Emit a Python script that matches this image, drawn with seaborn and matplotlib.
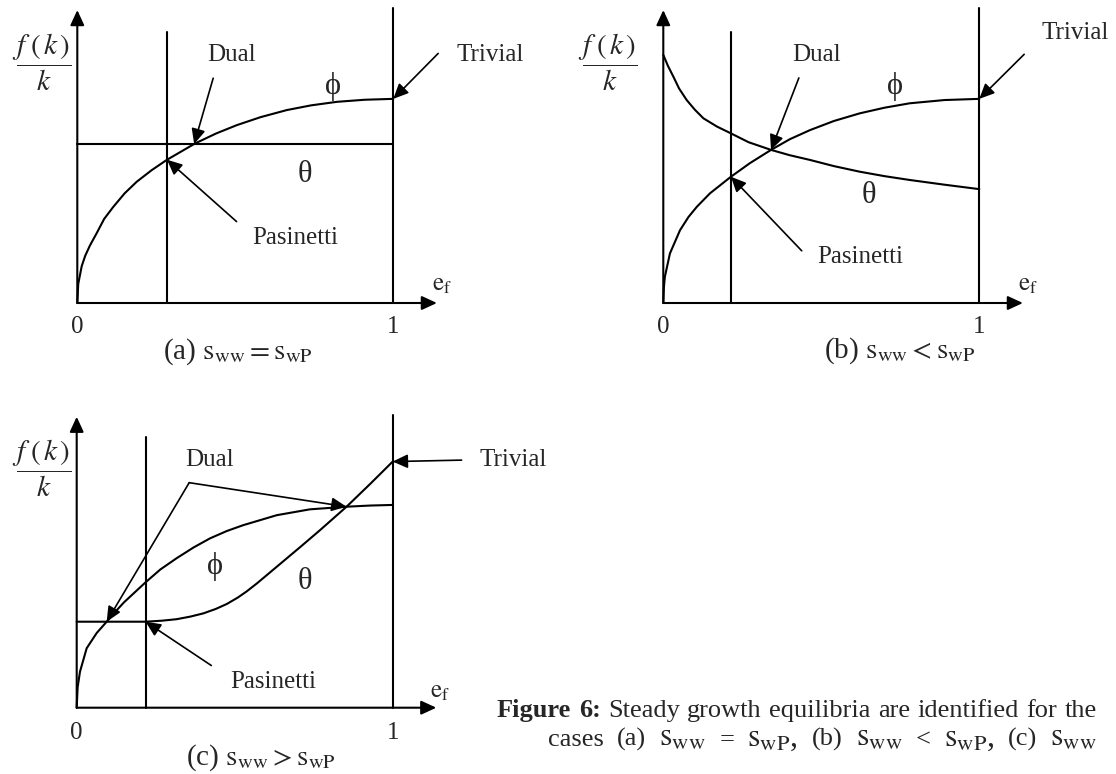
import numpy as np
import matplotlib
matplotlib.use("Agg")
import matplotlib.pyplot as plt
import seaborn as sns

W, H, DPI = 1116, 774, 100

# ---------------------------------------------------------------------------
# Curves: e_f on the horizontal axis, f(k)/k (arbitrary units) vertically
# ---------------------------------------------------------------------------
# (a) s_ww = s_wP
PHI_A_X = [0.0, 0.003, 0.014, 0.025, 0.040, 0.061, 0.085, 0.114, 0.150, 0.188,
           0.235, 0.283, 0.373, 0.440, 0.505, 0.580, 0.663, 0.740, 0.822, 0.910, 1.0]
PHI_A_Y = [0.0, 0.065, 0.125, 0.160, 0.195, 0.236, 0.285, 0.326, 0.372, 0.411,
           0.450, 0.485, 0.541, 0.575, 0.603, 0.630, 0.654, 0.670, 0.682, 0.689, 0.692]
THETA_A = 0.539
E_LEFT_A = 0.284

# (b) s_ww < s_wP
PHI_B_X = [0.0, 0.002, 0.005, 0.021, 0.053, 0.080, 0.106, 0.148, 0.214, 0.274, 0.341,
           0.400, 0.464, 0.540, 0.622, 0.700, 0.780, 0.890, 1.0]
PHI_B_Y = [0.0, 0.055, 0.089, 0.168, 0.247, 0.292, 0.326, 0.372, 0.428, 0.474, 0.519,
           0.555, 0.586, 0.617, 0.643, 0.662, 0.677, 0.688, 0.692]
THETA_B_X = [0.0, 0.015, 0.032, 0.050, 0.074, 0.100, 0.127, 0.170, 0.214, 0.270,
             0.341, 0.400, 0.464, 0.540, 0.622, 0.700, 0.780, 0.890, 1.0]
THETA_B_Y = [0.841, 0.803, 0.767, 0.727, 0.688, 0.655, 0.626, 0.598, 0.575, 0.545,
             0.519, 0.501, 0.485, 0.464, 0.445, 0.430, 0.417, 0.401, 0.386]
E_LEFT_B = 0.214

# (c) s_ww > s_wP
PHI_C_X = [0.0, 0.003, 0.0104, 0.0316, 0.0633, 0.0949, 0.120, 0.150, 0.218, 0.265,
           0.316, 0.370, 0.422, 0.475, 0.527, 0.633, 0.738, 0.854, 0.930, 1.0]
PHI_C_Y = [0.0, 0.070, 0.123, 0.203, 0.255, 0.2935, 0.325, 0.360, 0.428, 0.472,
           0.510, 0.547, 0.578, 0.603, 0.623, 0.657, 0.677, 0.686, 0.690, 0.692]
THETA_C_X = [0.0, 0.218, 0.270, 0.316, 0.360, 0.401, 0.440, 0.475, 0.510, 0.538,
             0.570, 0.601, 0.654, 0.707, 0.770, 0.854, 0.928, 1.0]
THETA_C_Y = [0.2935, 0.2935, 0.297, 0.302, 0.311, 0.322, 0.337, 0.354, 0.376, 0.397,
             0.424, 0.452, 0.500, 0.548, 0.606, 0.686, 0.763, 0.840]
E_LEFT_C = 0.218

TICK_LABELS = ["0", "1"]
CAPTIONS = [r"(a) $\mathrm{s}_{\mathrm{ww}} = \mathrm{s}_{\mathrm{wP}}$",
            r"(b) $\mathrm{s}_{\mathrm{ww}} < \mathrm{s}_{\mathrm{wP}}$",
            r"(c) $\mathrm{s}_{\mathrm{ww}} > \mathrm{s}_{\mathrm{wP}}$"]
PHI, THETA = "\u03d5", "\u03b8"

# ---------------------------------------------------------------------------
sns.set_theme(style="white")
plt.rcParams["font.family"] = ["Liberation Serif", "DejaVu Serif"]
plt.rcParams["mathtext.fontset"] = "stix"

LW = 1.5       # axes, curves and vertical lines
LW_ARROW = 1.2
ARROW = "-|>,head_length=0.65,head_width=0.3"
LABEL_SIZE = 18
PHI_SIZE = 22
THETA_SIZE = 22

fig = plt.figure(figsize=(W / DPI, H / DPI), dpi=DPI)
fig.patch.set_facecolor("white")


def panel_axes(left_px, base_px, width_px, height_px):
    return fig.add_axes([left_px / W, 1 - base_px / H, width_px / W, height_px / H])


def finish(ax):
    ax.set_xlim(0, 1)
    ax.set_ylim(0, 1)
    ax.axis("off")
    for ln in ax.lines:
        ln.set_clip_on(False)


def curve(ax, xs, ys):
    sns.lineplot(x=np.asarray(xs), y=np.asarray(ys), ax=ax, color="black",
                 linewidth=LW, estimator=None, sort=False, legend=False)


def arrow(ax, start, tip, lw=LW_ARROW):
    ax.annotate("", xy=tip, xytext=start, annotation_clip=False,
                arrowprops=dict(arrowstyle=ARROW, mutation_scale=14, lw=lw,
                                color="black", shrinkA=0, shrinkB=0))


def label(ax, x, y, s, size=LABEL_SIZE):
    ax.text(x, y, s, fontsize=size, ha="center", va="center")


def frame(ax, x_left, left_top, y_tip=0.993, x_tip=1.138):
    # e_f axis and f(k)/k axis with arrow heads
    arrow(ax, (0, 0), (x_tip, 0), lw=LW)
    arrow(ax, (0, 0), (0, y_tip), lw=LW)
    # e_f = 1 and the interior vertical
    curve(ax, [1.0, 1.0], [0.0, 1.0])
    curve(ax, [x_left, x_left], [0.0, left_top])


def axis_text(ax, fx, fy, ex, ey, tick_y):
    ax.text(fx, fy, r"$\dfrac{f\;(\,k\,)}{k}$", fontsize=21,
            ha="center", va="center")
    ax.text(ex, ey, r"$\mathrm{e}_{\mathrm{f}}$", fontsize=LABEL_SIZE,
            ha="center", va="center")
    for xv, lab in zip([0.0, 1.0], TICK_LABELS):
        label(ax, xv, tick_y, lab)


def crossing(x1, y1, x2, y2, lo, hi):
    grid = np.linspace(lo, hi, 4001)
    d = np.interp(grid, x1, y1) - np.interp(grid, x2, y2)
    i = np.where(np.sign(d[:-1]) != np.sign(d[1:]))[0][0]
    xc = grid[i]
    return xc, float(np.interp(xc, x1, y1))


# ---------------------------------------------------------------- panel (a)
ax = panel_axes(77.3, 303, 316, 295)
frame(ax, E_LEFT_A, 0.919)
curve(ax, PHI_A_X, PHI_A_Y)
curve(ax, [0.0, 1.0], [THETA_A, THETA_A])
dual_a = (float(np.interp(THETA_A, PHI_A_Y, PHI_A_X)), THETA_A)
pas_a = (E_LEFT_A, float(np.interp(E_LEFT_A, PHI_A_X, PHI_A_Y)))
triv_a = (1.0, PHI_A_Y[-1])
label(ax, 0.489, 0.841, "Dual")
arrow(ax, (0.430, 0.762), dual_a)
label(ax, 0.810, 0.735, PHI, PHI_SIZE)
label(ax, 0.720, 0.434, THETA, THETA_SIZE)
label(ax, 0.690, 0.219, "Pasinetti")
arrow(ax, (0.504, 0.276), pas_a)
label(ax, 1.306, 0.841, "Trivial")
arrow(ax, (1.142, 0.846), triv_a)
axis_text(ax, -0.112, 0.814, 1.153, 0.061, -0.081)
label(ax, 0.508, -0.166, CAPTIONS[0], 21)
finish(ax)

# ---------------------------------------------------------------- panel (b)
ax = panel_axes(663.3, 303, 316, 295)
frame(ax, E_LEFT_B, 0.919)
curve(ax, PHI_B_X, PHI_B_Y)
curve(ax, THETA_B_X, THETA_B_Y)
dual_b = crossing(PHI_B_X, PHI_B_Y, THETA_B_X, THETA_B_Y, 0.05, 0.95)
pas_b = (E_LEFT_B, float(np.interp(E_LEFT_B, PHI_B_X, PHI_B_Y)))
triv_b = (1.0, PHI_B_Y[-1])
label(ax, 0.486, 0.841, "Dual")
arrow(ax, (0.429, 0.763), dual_b)
label(ax, 0.733, 0.734, PHI, PHI_SIZE)
label(ax, 0.651, 0.366, THETA, THETA_SIZE)
label(ax, 0.622, 0.156, "Pasinetti")
arrow(ax, (0.438, 0.177), pas_b)
label(ax, 1.305, 0.915, "Trivial")
arrow(ax, (1.142, 0.843), triv_b)
axis_text(ax, -0.177, 0.814, 1.154, 0.061, -0.081)
label(ax, 0.750, -0.163, CAPTIONS[1], 21)
finish(ax)

# ---------------------------------------------------------------- panel (c)
ax = panel_axes(76.7, 707.7, 316, 293)
frame(ax, E_LEFT_C, 0.923)
curve(ax, PHI_C_X, PHI_C_Y)
curve(ax, THETA_C_X, THETA_C_Y)
dual_c_low = crossing(PHI_C_X, PHI_C_Y, THETA_C_X, THETA_C_Y, 0.02, 0.2)
dual_c_high = crossing(PHI_C_X, PHI_C_Y, THETA_C_X, THETA_C_Y, 0.5, 0.99)
pas_c = (E_LEFT_C, float(np.interp(E_LEFT_C, THETA_C_X, THETA_C_Y)))
triv_c = (1.0, THETA_C_Y[-1])
label(ax, 0.419, 0.845, "Dual")
vertex = (0.356, 0.768)
arrow(ax, vertex, dual_c_low)
arrow(ax, vertex, dual_c_high)
label(ax, 0.438, 0.483, PHI, PHI_SIZE)
label(ax, 0.722, 0.432, THETA, THETA_SIZE)
label(ax, 0.621, 0.088, "Pasinetti")
arrow(ax, (0.426, 0.144), pas_c)
label(ax, 1.381, 0.845, "Trivial")
arrow(ax, (1.218, 0.845), triv_c)
axis_text(ax, -0.110, 0.815, 1.150, 0.054, -0.088)
label(ax, 0.583, -0.171, CAPTIONS[2], 21)
finish(ax)

# ---------------------------------------------------------------- caption
renderer = fig.canvas.get_renderer()


def justified_line(words, x0, x1, ybase):
    arts = []
    for w, bold, size in words:
        arts.append(fig.text(0, 1 - ybase / H, w, fontsize=size,
                             fontweight="bold" if bold else "normal",
                             ha="left", va="baseline"))
    widths = [a.get_window_extent(renderer).width for a in arts]
    gap = ((x1 - x0) - sum(widths)) / (len(arts) - 1)
    x = x0
    for a, wd in zip(arts, widths):
        a.set_x(x / W)
        x += wd + gap


TXT, MATH = 19, 23
SWW = r"$\mathrm{s}_{\mathrm{ww}}$"
SWP = r"$\mathrm{s}_{\mathrm{wP}}$,"
line1 = [("Figure", True, TXT), ("6:", True, TXT), ("Steady", False, TXT),
         ("growth", False, TXT), ("equilibria", False, TXT), ("are", False, TXT),
         ("identified", False, TXT), ("for", False, TXT), ("the", False, TXT)]
line2 = [("cases", False, TXT), ("(a)", False, TXT), (SWW, False, MATH),
         ("=", False, TXT), (SWP, False, MATH), ("(b)", False, TXT),
         (SWW, False, MATH), ("<", False, TXT), (SWP, False, MATH),
         ("(c)", False, TXT), (SWW, False, MATH)]
justified_line(line1, 497, 1097, 717)
justified_line(line2, 548, 1097, 746)

fig.savefig("out.png", dpi=DPI, facecolor="white")
